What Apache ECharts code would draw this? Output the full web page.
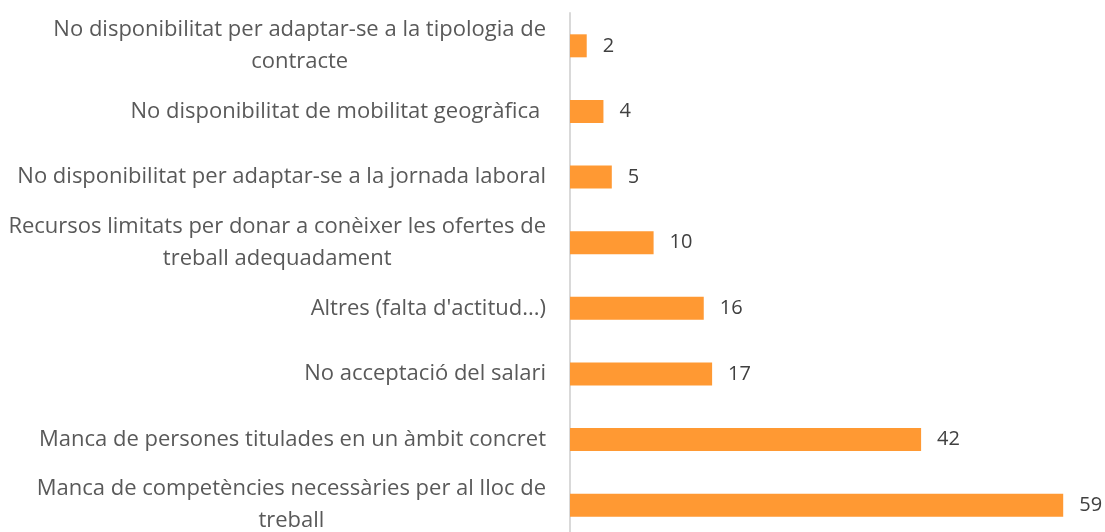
<!DOCTYPE html>
<html>
<head>
<meta charset="utf-8">
<script src="https://cdn.jsdelivr.net/npm/echarts@6/dist/echarts.min.js"></script>
<style>
  html, body { margin: 0; padding: 0; background: #fff; overflow: hidden; }
  #chart { width: 1105px; height: 545px; }
</style>
</head>
<body>
<div id="chart"></div>
<script>
// categories, from bottom to top (category axis on y runs upward)
var categories = [
	'Manca de competències necessàries per al lloc de\ntreball',
	'Manca de persones titulades en un àmbit concret',
	'No acceptació del salari',
	"Altres (falta d'actitud...)",
	'Recursos limitats per donar a conèixer les ofertes de\ntreball adequadament',
	'No disponibilitat per adaptar-se a la jornada laboral',
	'No disponibilitat de mobilitat geogràfica ',
	'No disponibilitat per adaptar-se a la tipologia de\ncontracte'
];
var values = [59, 42, 17, 16, 10, 5, 4, 2];

// 图表比窗口略高, 最后一行被裁掉一部分
var myChart = echarts.init(document.getElementById('chart'));
var option = {
	animation : false,
	grid : {
		left : 570,
		right : 0,
		top : 13,
		bottom : 7,
		containLabel : false
	},
	xAxis : {
		type : 'value',
		min : 0,
		max : 64,
		show : false
	},
	yAxis : {
		type : 'category',
		data : categories,
		axisLine : { show : true, lineStyle : { color : '#d9d9d9', width : 2 } },
		axisTick : { show : false },
		axisLabel : {
			margin : 24,
			formatter : function(val) { // 每行居中
				return val.split('\n').map(function(s) { return '{c|' + s + '}'; }).join('\n');
			},
			rich : {
				c : {
					align : 'center',
					fontFamily : 'Open Sans',
					fontSize : 22,
					lineHeight : 32,
					color : '#595959'
				}
			}
		}
	},
	series : [{
		type : 'bar',
		data : values,
		barWidth : 23,
		itemStyle : { color : '#FF9933' },
		label : {
			show : true,
			position : 'right',
			distance : 16,
			fontFamily : 'Open Sans',
			fontSize : 20,
			color : '#404040'
		}
	}]
};
myChart.setOption(option);
</script>
</body>
</html>
